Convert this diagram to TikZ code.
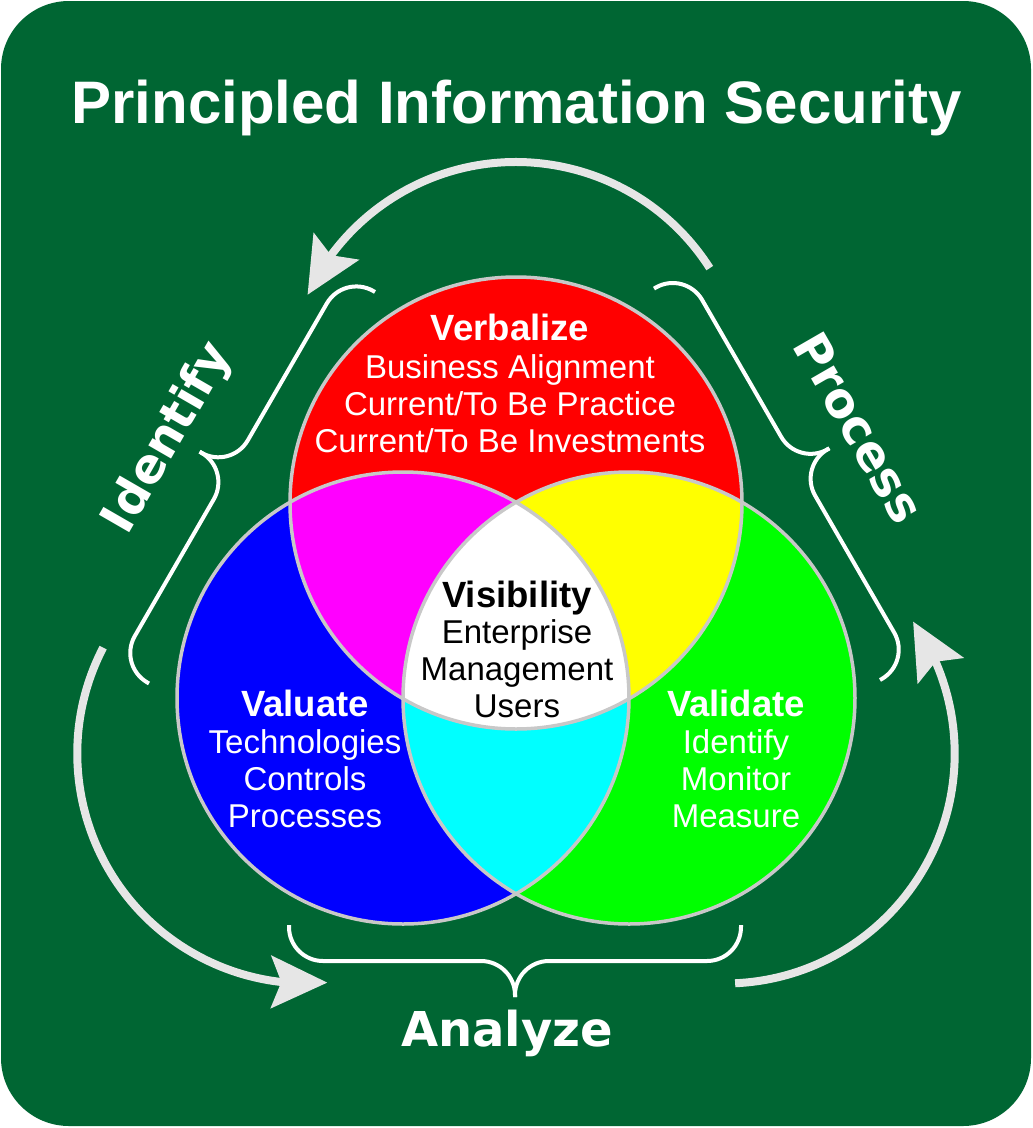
\documentclass[tikz,border=0pt]{standalone}
\usepackage{fontspec}
\setmainfont{Liberation Sans}
\newfontfamily\labfont{DejaVu Sans}
\usetikzlibrary{arrows.meta,bending}
\definecolor{bggreen}{RGB}{0,102,51}
\definecolor{arrgray}{RGB}{230,230,230}
\definecolor{ringgray}{RGB}{200,200,200}
\definecolor{vred}{RGB}{255,0,0}
\definecolor{vblue}{RGB}{0,0,255}
\definecolor{vgreen}{RGB}{0,255,0}
\definecolor{vmagenta}{RGB}{255,0,255}
\definecolor{vyellow}{RGB}{255,255,0}
\definecolor{vcyan}{RGB}{0,255,255}
\begin{document}
\begin{tikzpicture}[x=1pt,y=-1pt,
  cyc/.style={draw=arrgray, line width=8pt, -{Stealth[length=56pt,width=52pt,inset=10pt]}},
  brc/.style={draw=white, line width=4pt, rounded corners=34pt},
  head/.style={font=\fontsize{36.5}{40}\selectfont\bfseries, anchor=base, inner sep=0pt},
  body/.style={font=\fontsize{33}{37}\selectfont, anchor=base, inner sep=0pt},
  big/.style={font=\labfont\fontsize{48}{52}\selectfont\bfseries, text=white, anchor=base, inner sep=0pt},
  ring/.style={draw=ringgray, line width=3.5pt}
]
% background
\fill[white] (0,0) rectangle (1033,1128);
\useasboundingbox (0,0) rectangle (1033,1128);
\fill[bggreen, rounded corners=68pt] (1,1) rectangle (1031,1126);

% title
\node[font=\fontsize{60}{66}\selectfont\bfseries, text=white, anchor=base, inner sep=0pt] (title) at (516.5,123) {Principled Information Security};

% cycle arrows
\draw[cyc] ([shift={(-32.6:230)}]516,392) arc[start angle=-32.6, end angle=-155, radius=230];
\draw[cyc] ([shift={(87.4:230)}]724.7,753.5) arc[start angle=87.4, end angle=-35, radius=230];
\draw[cyc] ([shift={(-152.6:230)}]307.3,753.5) arc[start angle=-152.6, end angle=-275, radius=230];

% braces
\begin{scope}[shift={(375,292)}, rotate=-120]
  \draw[brc] (0,0) -- (0,36) -- (226,36) -- (226,72);
  \draw[brc] (452,0) -- (452,36) -- (226,36) -- (226,72);
\end{scope}
\begin{scope}[shift={(880,680)}, rotate=120]
  \draw[brc] (0,0) -- (0,36) -- (226,36) -- (226,72);
  \draw[brc] (452,0) -- (452,36) -- (226,36) -- (226,72);
\end{scope}
\begin{scope}[shift={(289,925)}]
  \draw[brc] (0,0) -- (0,36) -- (226,36) -- (226,72);
  \draw[brc] (452,0) -- (452,36) -- (226,36) -- (226,72);
\end{scope}

% Venn circles
\coordinate (cR) at (516,503);
\coordinate (cB) at (403,698);
\coordinate (cG) at (629,698);
\fill[vred] (cR) circle[radius=226];
\fill[vblue] (cB) circle[radius=226];
\fill[vgreen] (cG) circle[radius=226];
\begin{scope}
  \clip (cR) circle[radius=226];
  \fill[vmagenta] (cB) circle[radius=226];
  \fill[vyellow] (cG) circle[radius=226];
\end{scope}
\begin{scope}
  \clip (cB) circle[radius=226];
  \fill[vcyan] (cG) circle[radius=226];
\end{scope}
\begin{scope}
  \clip (cR) circle[radius=226];
  \clip (cB) circle[radius=226];
  \fill[white] (cG) circle[radius=226];
\end{scope}
\draw[ring] (cR) circle[radius=226];
\draw[ring] (cB) circle[radius=226];
\draw[ring] (cG) circle[radius=226];

% Verbalize
\node[head, text=white] (vb0) at (510,340) {Verbalize};
\node[body, text=white] (vb1) at (510,378) {Business Alignment};
\node[body, text=white] (vb2) at (510,415) {Current/To Be Practice};
\node[body, text=white] (vb3) at (510,452) {Current/To Be Investments};
% Visibility
\node[head, text=black] (vs0) at (517,607) {Visibility};
\node[body, text=black] (vs1) at (517,643) {Enterprise};
\node[body, text=black] (vs2) at (517,680) {Management};
\node[body, text=black] (vs3) at (517,717) {Users};
% Valuate
\node[head, text=white] (vl0) at (305,716) {Valuate};
\node[body, text=white] (vl1) at (305,753) {Technologies};
\node[body, text=white] (vl2) at (305,790) {Controls};
\node[body, text=white] (vl3) at (305,827) {Processes};
% Validate
\node[head, text=white] (vd0) at (736,716) {Validate};
\node[body, text=white] (vd1) at (736,753) {Identify};
\node[body, text=white] (vd2) at (736,790) {Monitor};
\node[body, text=white] (vd3) at (736,827) {Measure};

% outer labels
\node[big, rotate=60] (identify) at (180,445) {Identify};
\node[big, rotate=-60] (process) at (844,436) {Process};
\node[big] (analyze) at (507,1046) {Analyze};
\end{tikzpicture}
\end{document}
